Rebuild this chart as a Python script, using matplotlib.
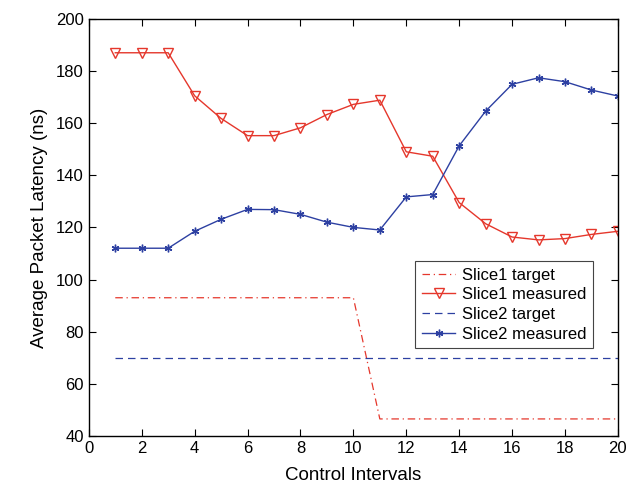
import numpy as np
import matplotlib
matplotlib.use('Agg')
import matplotlib.pyplot as plt

plt.rcParams['font.family'] = ['Liberation Sans', 'DejaVu Sans']

# data
intervals = list(range(1, 21))
slice1_target = [93] * 10 + [46.5] * 10
slice1_measured = [187, 187, 187, 170.5, 161.8, 155.2, 155.2, 158.2, 163.3, 167.2,
                   168.8, 149, 147.3, 129.5, 121.4, 116.3, 115.2, 115.7, 117.3, 118.5]
slice2_target = [70] * 20
slice2_measured = [112, 112, 112, 118.5, 123.1, 126.9, 126.8, 125, 122, 120,
                   119, 131.7, 132.6, 151.3, 164.6, 174.9, 177.4, 175.9, 172.7, 170.4]

red = '#e5372c'
blue = '#2d40a2'

fig = plt.figure(figsize=(6.39, 4.97), dpi=100)
ax = fig.add_axes([0.139, 0.123, 0.828, 0.839])

ax.plot(intervals, slice1_target, color=red, linestyle='-.', linewidth=0.9,
        dashes=(6, 3, 1, 3), label='Slice1 target')
ax.plot(intervals, slice1_measured, color=red, linewidth=1.0, marker='v',
        markersize=7, markerfacecolor='none', markeredgewidth=1.0, label='Slice1 measured')
ax.plot(intervals, slice2_target, color=blue, linestyle='--', linewidth=0.9,
        dashes=(6, 4), label='Slice2 target')
ax.plot(intervals, slice2_measured, color=blue, linewidth=1.0, marker=(6, 2, 0),
        markersize=5.5, markeredgewidth=1.0, label='Slice2 measured')

ax.set_xlim(0, 20)
ax.set_ylim(40, 200)
ax.set_xticks(np.arange(0, 21, 2))
ax.set_yticks(np.arange(40, 201, 20))
ax.tick_params(direction='in', top=True, right=True, labelsize=12, length=5, width=0.8)
for s in ax.spines.values():
    s.set_linewidth(1.0)

ax.set_xlabel('Control Intervals', fontsize=13.5, labelpad=8)
ax.set_ylabel('Average Packet Latency (ns)', fontsize=13.5, labelpad=6)

leg = ax.legend(loc='lower right', bbox_to_anchor=(0.953, 0.21), fontsize=12,
                frameon=True, fancybox=False, edgecolor='#444444', framealpha=1,
                handlelength=2.0, handletextpad=0.4, borderpad=0.4, labelspacing=0.28,
                borderaxespad=0)
leg.get_frame().set_linewidth(0.8)

fig.savefig('out.png', dpi=100)
